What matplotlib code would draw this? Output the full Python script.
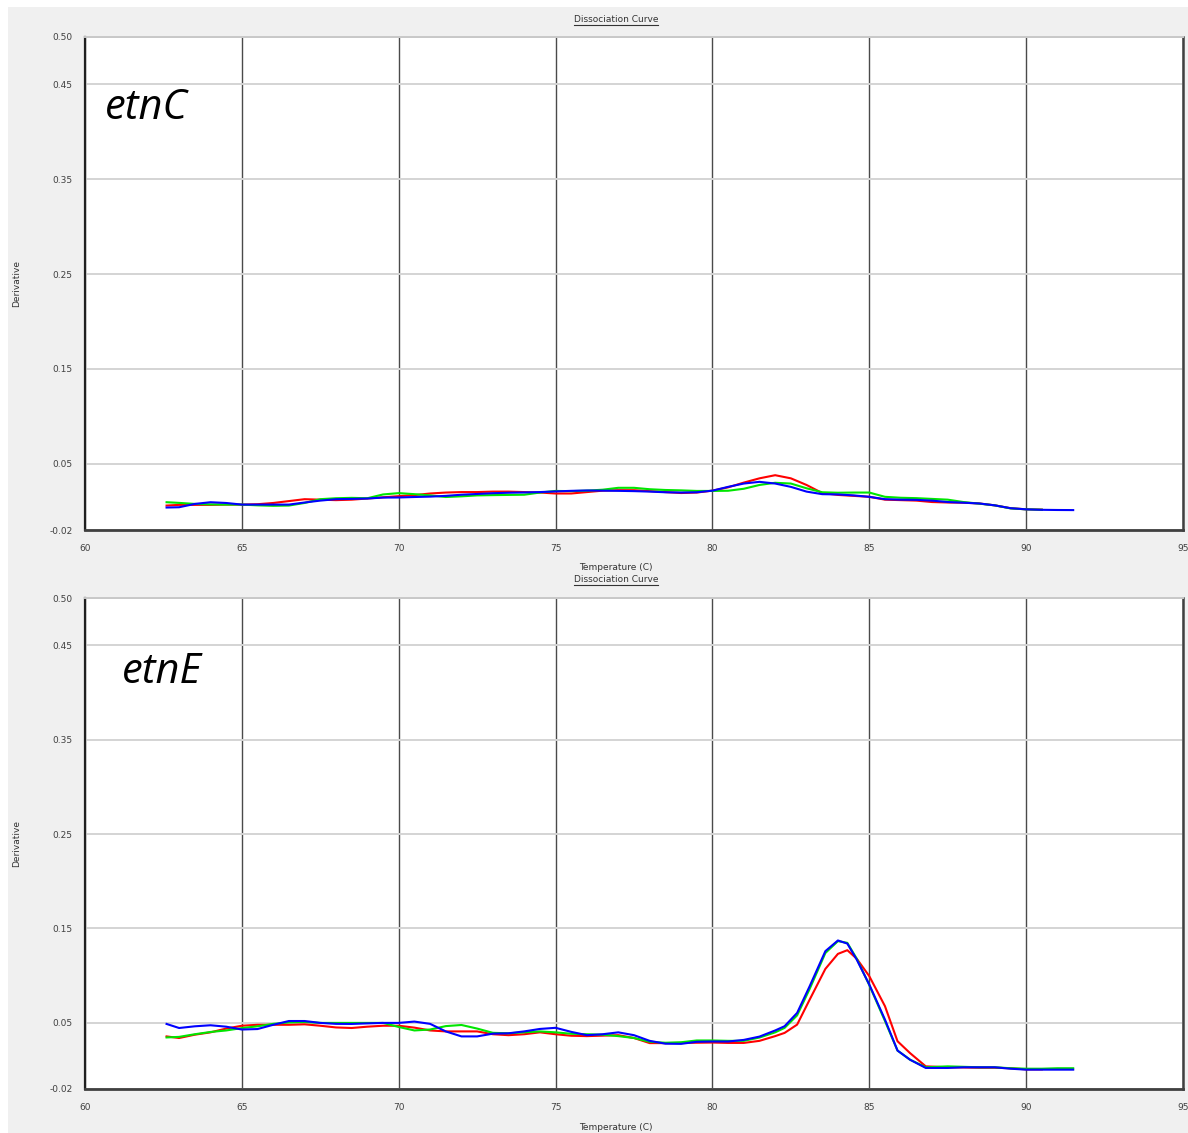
import numpy as np
import matplotlib
matplotlib.use("Agg")
import matplotlib.pyplot as plt
from matplotlib import font_manager
from matplotlib.patches import Rectangle
from matplotlib.lines import Line2D

nan = np.nan

# etnC melt curve (derivative vs temperature)
temps_c = [62.6, 63.0, 63.5, 64.0, 64.5, 65.0, 65.5, 66.0, 66.5, 67.0, 67.5, 68.0,
           68.5, 69.0, 69.5, 70.0, 70.5, 71.0, 71.5, 72.0, 72.5, 73.0, 73.5, 74.0,
           74.5, 75.0, 75.5, 76.0, 76.5, 77.0, 77.5, 78.0, 78.5, 79.0, 79.5, 80.0,
           80.5, 81.0, 81.5, 82.0, 82.5, 83.0, 83.5, 84.0, 84.5, 85.0, 85.5, 86.0,
           86.5, 87.0, 87.5, 88.0, 88.5, 89.0, 89.5, 90.0, 90.5, 91.0, 91.5]
red_c = [0.0058, 0.0065, 0.0065, 0.0065, 0.0068, 0.0068, 0.0072, 0.0085, 0.0105, 0.0125,
         0.0120, 0.0115, 0.0120, 0.0132, 0.0145, 0.0157, 0.0168, 0.0185, 0.0195, 0.0200,
         0.0200, 0.0205, 0.0205, 0.0200, 0.0195, 0.0185, 0.0185, 0.0200, 0.0215, 0.0220,
         0.0220, 0.0210, 0.0200, 0.0190, 0.0195, 0.0215, 0.0250, 0.0300, 0.0345, 0.0378,
         0.0345, 0.0275, 0.0190, 0.0170, 0.0160, 0.0150, 0.0120, 0.0115, 0.0110, 0.0095,
         0.0090, 0.0088, 0.0080, 0.0060, 0.0030, 0.0018, 0.0015, nan, nan]
green_c = [0.0093, 0.0086, 0.0075, 0.0070, 0.0068, 0.0068, 0.0060, 0.0055, 0.0058, 0.0085,
           0.0125, 0.0135, 0.0139, 0.0135, 0.0175, 0.0189, 0.0178, 0.0165, 0.0148, 0.0155,
           0.0165, 0.0168, 0.0170, 0.0172, 0.0195, 0.0212, 0.0210, 0.0215, 0.0225, 0.0245,
           0.0245, 0.0230, 0.0222, 0.0218, 0.0212, 0.0212, 0.0214, 0.0235, 0.0275, 0.0298,
           0.0290, 0.0240, 0.0198, 0.0193, 0.0195, 0.0195, 0.0150, 0.0140, 0.0136, 0.0128,
           0.0120, 0.0095, 0.0078, 0.0060, 0.0028, 0.0018, 0.0014, nan, nan]
blue_c = [0.0037, 0.0040, 0.0075, 0.0093, 0.0085, 0.0068, 0.0068, 0.0068, 0.0068, 0.0090,
          0.0110, 0.0125, 0.0128, 0.0132, 0.0142, 0.0143, 0.0148, 0.0152, 0.0160, 0.0172,
          0.0180, 0.0188, 0.0193, 0.0196, 0.0200, 0.0207, 0.0213, 0.0217, 0.0215, 0.0213,
          0.0210, 0.0205, 0.0198, 0.0195, 0.0198, 0.0215, 0.0255, 0.0290, 0.0308, 0.0290,
          0.0255, 0.0205, 0.0178, 0.0175, 0.0165, 0.0150, 0.0125, 0.0120, 0.0118, 0.0110,
          0.0095, 0.0088, 0.0080, 0.0060, 0.0030, 0.0018, 0.0013, 0.0011, 0.0010]

# etnE melt curve
temps_e = [62.6, 63.0, 63.5, 64.0, 64.5, 65.0, 65.5, 66.0, 66.5, 67.0, 67.5, 68.0,
           68.5, 69.0, 69.5, 70.0, 70.5, 71.0, 71.5, 72.0, 72.5, 73.0, 73.5, 74.0,
           74.5, 75.0, 75.5, 76.0, 76.5, 77.0, 77.5, 78.0, 78.5, 79.0, 79.5, 80.0,
           80.5, 81.0, 81.5, 82.0, 82.3, 82.7, 83.1, 83.6, 84.0, 84.3, 84.6, 85.0,
           85.5, 85.9, 86.3, 86.8, 87.5, 88.0, 88.5, 89.0, 89.5, 90.0, 90.5, 91.0, 91.5]
red_e = [0.0357, 0.0340, 0.0375, 0.0400, 0.0440, 0.0470, 0.0480, 0.0480, 0.0480, 0.0485,
         0.0470, 0.0452, 0.0446, 0.0460, 0.0470, 0.0470, 0.0450, 0.0420, 0.0410, 0.0410,
         0.0410, 0.0380, 0.0370, 0.0380, 0.0400, 0.0380, 0.0364, 0.0360, 0.0365, 0.0370,
         0.0340, 0.0286, 0.0286, 0.0288, 0.0290, 0.0292, 0.0288, 0.0288, 0.0310, 0.0360,
         0.0394, 0.0482, 0.0747, 0.1072, 0.1231, 0.1270, 0.1180, 0.0995, 0.0677, 0.0306,
         0.0180, 0.0040, 0.0030, 0.0028, 0.0025, 0.0025, 0.0020, 0.0008, 0.0008, nan, nan]
green_e = [0.0346, 0.0352, 0.0380, 0.0404, 0.0420, 0.0445, 0.0464, 0.0490, 0.0505, 0.0510,
           0.0500, 0.0500, 0.0500, 0.0500, 0.0500, 0.0457, 0.0420, 0.0430, 0.0466, 0.0478,
           0.0440, 0.0395, 0.0390, 0.0400, 0.0410, 0.0400, 0.0385, 0.0380, 0.0375, 0.0360,
           0.0340, 0.0300, 0.0290, 0.0295, 0.0314, 0.0314, 0.0310, 0.0310, 0.0345, 0.0400,
           0.0447, 0.0580, 0.0860, 0.1240, 0.1366, 0.1348, 0.1180, 0.0900, 0.0520, 0.0207,
           0.0110, 0.0030, 0.0040, 0.0035, 0.0030, 0.0030, 0.0020, 0.0015, 0.0015, 0.0020, 0.0020]
blue_e = [0.0489, 0.0446, 0.0464, 0.0475, 0.0460, 0.0430, 0.0435, 0.0480, 0.0520, 0.0520,
          0.0500, 0.0490, 0.0489, 0.0495, 0.0500, 0.0500, 0.0514, 0.0490, 0.0410, 0.0357,
          0.0357, 0.0386, 0.0390, 0.0410, 0.0436, 0.0448, 0.0405, 0.0370, 0.0380, 0.0400,
          0.0370, 0.0310, 0.0280, 0.0278, 0.0300, 0.0303, 0.0303, 0.0320, 0.0355, 0.0420,
          0.0465, 0.0606, 0.0889, 0.1260, 0.1373, 0.1340, 0.1170, 0.0906, 0.0535, 0.0207,
          0.0110, 0.0023, 0.0023, 0.0030, 0.0030, 0.0030, 0.0015, 0.0005, 0.0005, 0.0005, 0.0005]

x_ticks = [60, 65, 70, 75, 80, 85, 90, 95]
y_ticks = [-0.02, 0.05, 0.15, 0.25, 0.35, 0.45, 0.50]

panels = [
    ("etnC", temps_c, red_c, green_c, blue_c),
    ("etnE", temps_e, red_e, green_e, blue_e),
]

# pick a sans family that actually ships an italic face
italic_names = {f.name for f in font_manager.fontManager.ttflist if f.style == "italic"}
gene_family = next((n for n in ["Open Sans", "Noto Sans", "Lato", "Liberation Sans"]
                    if n in italic_names), "DejaVu Sans")

W, H = 1188, 1133
fig = plt.figure(figsize=(W / 100, H / 100), dpi=100, facecolor="#f0f0f0")

# white margin strips on the top and left edge
fig.patches.append(Rectangle((0, 0), 8 / W, 1, transform=fig.transFigure,
                             facecolor="white", edgecolor="none", zorder=0))
fig.patches.append(Rectangle((0, 1 - 7 / H), 1, 7 / H, transform=fig.transFigure,
                             facecolor="white", edgecolor="none", zorder=0))

# pixel boxes (left, top, right, bottom) of each plot area
boxes = [(85, 37, 1183, 530), (85, 598, 1183, 1089)]
title_y = [20, 580]
xlabel_y = [568, 1127]
gene_xy = [(0.018, 0.856), (0.034, 0.849)]

titles = []
for i, (gene, temps, red, green, blue) in enumerate(panels):
    l, t, r, b = boxes[i]
    ax = fig.add_axes([l / W, 1 - b / H, (r - l) / W, (b - t) / H])
    ax.set_facecolor("white")

    ax.plot(temps, red, color="#ff0000", lw=1.5, zorder=3)
    ax.plot(temps, green, color="#00e600", lw=1.5, zorder=3)
    ax.plot(temps, blue, color="#0000ff", lw=1.5, zorder=3)

    ax.set_xlim(60, 95)
    ax.set_ylim(-0.02, 0.50)
    ax.set_xticks(x_ticks)
    ax.set_yticks(y_ticks)
    ax.set_yticklabels(["%.2f" % v for v in y_ticks])
    ax.tick_params(length=0, labelsize=6.5, labelcolor="#404040")
    ax.tick_params(axis="x", pad=10)
    ax.tick_params(axis="y", pad=9)

    ax.yaxis.grid(True, color="#d4d4d4", lw=1.4)
    ax.xaxis.grid(True, color="#4a4a4a", lw=1.0)
    ax.set_axisbelow(True)

    ax.spines["left"].set_color("#202020")
    ax.spines["left"].set_linewidth(1.6)
    ax.spines["bottom"].set_color("#404040")
    ax.spines["bottom"].set_linewidth(2.0)
    ax.spines["right"].set_color("#404040")
    ax.spines["right"].set_linewidth(1.8)
    ax.spines["top"].set_color("#c8c8c8")
    ax.spines["top"].set_linewidth(1.4)

    ax.text(gene_xy[i][0], gene_xy[i][1], gene, transform=ax.transAxes,
            fontsize=30, style="italic", family=[gene_family, "DejaVu Sans"],
            ha="left", va="center", color="black")

    fig.text(17 / W, 1 - ((t + b) / 2) / H, "Derivative", rotation=90,
             fontsize=6.5, color="#333333", ha="center", va="center", zorder=3)
    fig.text(616 / W, 1 - xlabel_y[i] / H, "Temperature (C)", fontsize=6.5,
             color="#333333", ha="center", va="center", zorder=3)
    titles.append(fig.text(616 / W, 1 - title_y[i] / H, "Dissociation Curve",
                           fontsize=6.5, color="#333333", ha="center", va="center",
                           zorder=7))

# the second panel's header strip cuts off the first x label
fig.patches.append(Rectangle((8 / W, 1 - 592 / H), 1, 20 / H, transform=fig.transFigure,
                             facecolor="#f0f0f0", edgecolor="none", zorder=5))

# underline the titles
fig.canvas.draw()
inv = fig.transFigure.inverted()
for txt in titles:
    bb = txt.get_window_extent()
    (x0, y0), (x1, _) = inv.transform([(bb.x0, bb.y0 - 0.5), (bb.x1, bb.y0)])
    fig.add_artist(Line2D([x0, x1], [y0, y0], transform=fig.transFigure,
                          color="#333333", lw=0.8, zorder=7))

fig.savefig("out.png", dpi=100, facecolor=fig.get_facecolor())
